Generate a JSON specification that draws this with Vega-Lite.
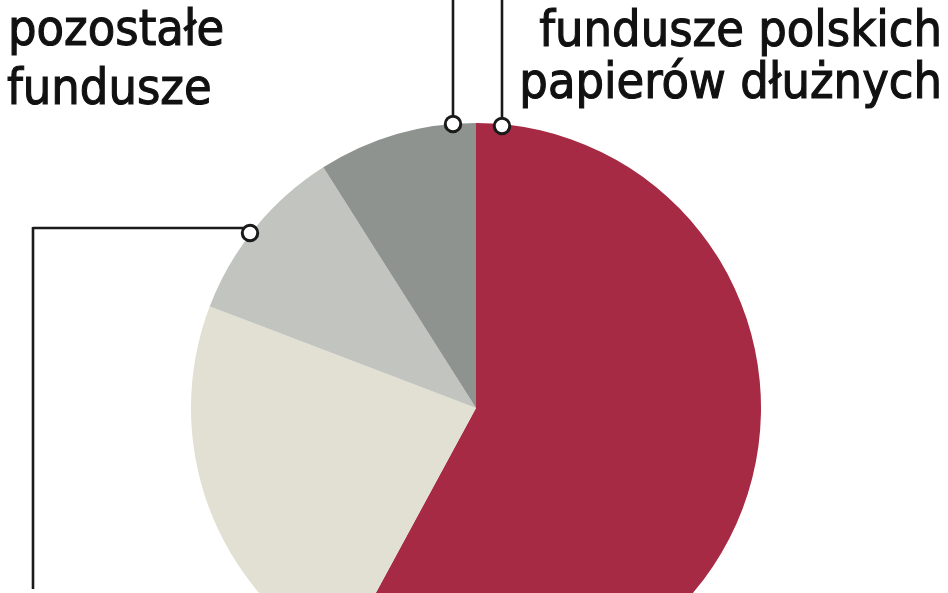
{
  "$schema": "https://vega.github.io/schema/vega-lite/v6.json",
  "width": 948,
  "height": 593,
  "autosize": "none",
  "padding": 0,
  "background": "white",
  "datasets": {
    "udzialy": [
      {"kategoria": "fundusze polskich papierów dłużnych", "udzial": 57.9, "kolejnosc": 1},
      {"kategoria": "segment beżowy", "udzial": 22.9, "kolejnosc": 2},
      {"kategoria": "segment jasnoszary", "udzial": 10.2, "kolejnosc": 3},
      {"kategoria": "pozostałe fundusze", "udzial": 9.0, "kolejnosc": 4}
    ],
    "linie": [
      {"x": -23, "y": 284, "x2": -23, "y2": 410},
      {"x": 26, "y": 282, "x2": 26, "y2": 410},
      {"x": -443, "y": 180, "x2": -233, "y2": 180},
      {"x": -443, "y": 181, "x2": -443, "y2": -181}
    ],
    "kolka": [
      {"x": -23, "y": 284},
      {"x": 26, "y": 282},
      {"x": -226, "y": 175}
    ],
    "etykiety": [
      {"tekst": "pozostałe", "strona": "lewa", "x": -468, "y": 363},
      {"tekst": "fundusze", "strona": "lewa", "x": -469, "y": 304},
      {"tekst": "fundusze polskich", "strona": "prawa", "x": 466, "y": 362},
      {"tekst": "papierów dłużnych", "strona": "prawa", "x": 466, "y": 310}
    ]
  },
  "layer": [
    {
      "data": {"name": "udzialy"},
      "mark": {
        "type": "arc",
        "outerRadius": 285,
        "strokeWidth": 0,
        "x": {"expr": "scale('x', 0)"},
        "y": {"expr": "scale('y', 0)"}
      },
      "encoding": {
        "theta": {"field": "udzial", "type": "quantitative", "stack": true},
        "order": {"field": "kolejnosc", "type": "quantitative"},
        "color": {
          "field": "kategoria",
          "type": "nominal",
          "scale": {
            "domain": ["fundusze polskich papierów dłużnych", "segment beżowy", "segment jasnoszary", "pozostałe fundusze"],
            "range": ["#a62a43", "#e1e0d2", "#c2c4bf", "#8e938f"]
          },
          "legend": null
        }
      }
    },
    {
      "data": {"name": "linie"},
      "mark": {"type": "rule", "color": "#1a1a1a", "strokeWidth": 2.6},
      "encoding": {
        "x": {"field": "x", "type": "quantitative", "scale": {"domain": [-476, 472], "nice": false, "zero": false}, "axis": null},
        "y": {"field": "y", "type": "quantitative", "scale": {"domain": [-185, 408], "nice": false, "zero": false}, "axis": null},
        "x2": {"field": "x2"},
        "y2": {"field": "y2"}
      }
    },
    {
      "data": {"name": "kolka"},
      "mark": {"type": "point", "shape": "circle", "filled": true, "fill": "white", "stroke": "#1a1a1a", "strokeWidth": 3, "size": 240, "opacity": 1},
      "encoding": {
        "x": {"field": "x", "type": "quantitative", "axis": null},
        "y": {"field": "y", "type": "quantitative", "axis": null}
      }
    },
    {
      "data": {"name": "etykiety"},
      "transform": [{"filter": "datum.strona === 'lewa'"}],
      "mark": {"type": "text", "align": "left", "baseline": "alphabetic", "font": "DejaVu Sans Condensed, DejaVu Sans, sans-serif", "fontWeight": "normal", "fontSize": 50, "color": "#111111", "stroke": "#111111", "strokeWidth": 1.1},
      "encoding": {
        "x": {"field": "x", "type": "quantitative", "axis": null},
        "y": {"field": "y", "type": "quantitative", "axis": null},
        "text": {"field": "tekst"}
      }
    },
    {
      "data": {"name": "etykiety"},
      "transform": [{"filter": "datum.strona === 'prawa'"}],
      "mark": {"type": "text", "align": "right", "baseline": "alphabetic", "font": "DejaVu Sans Condensed, DejaVu Sans, sans-serif", "fontWeight": "normal", "fontSize": 50, "color": "#111111", "stroke": "#111111", "strokeWidth": 1.1},
      "encoding": {
        "x": {"field": "x", "type": "quantitative", "axis": null},
        "y": {"field": "y", "type": "quantitative", "axis": null},
        "text": {"field": "tekst"}
      }
    }
  ],
  "config": {"view": {"stroke": null}}
}
